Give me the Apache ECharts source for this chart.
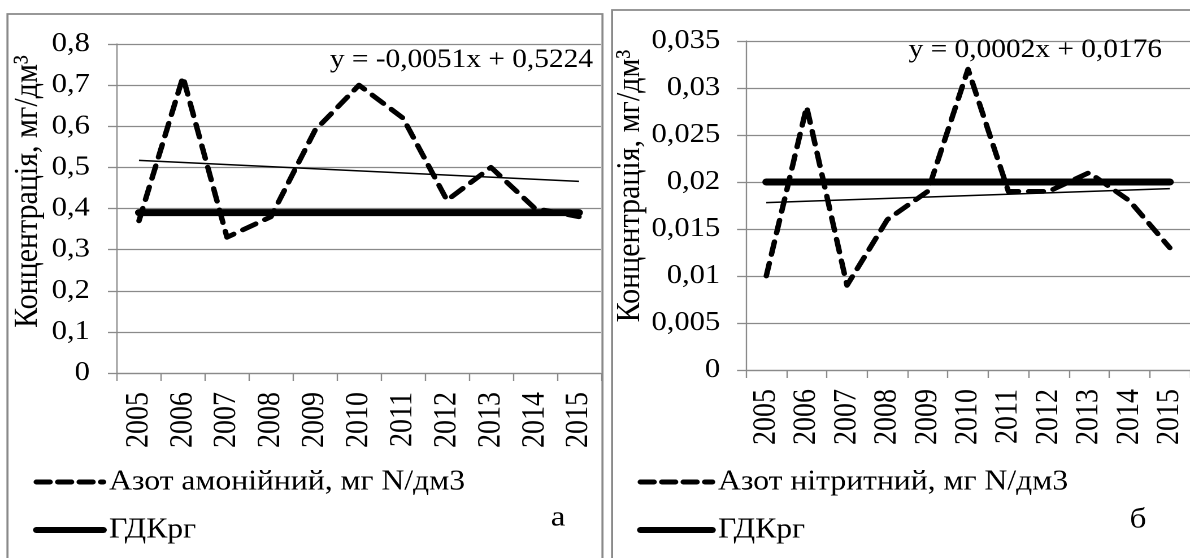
<!DOCTYPE html>
<html>
<head>
<meta charset="utf-8">
<script src="https://cdn.jsdelivr.net/npm/echarts@6/dist/echarts.min.js"></script>
<style>
html,body{margin:0;padding:0;background:#fff;overflow:hidden;}
#chart{width:1053px;height:558px;transform:scaleX(1.1301);transform-origin:0 0;}
</style>
</head>
<body>
<div id="chart"></div>
<script>
// ---- data ----
const years = ['2005','2006','2007','2008','2009','2010','2011','2012','2013','2014','2015'];
const ammonium = [0.37, 0.72, 0.33, 0.38, 0.59, 0.70, 0.62, 0.42, 0.50, 0.40, 0.38];
const gdkA = [0.39, 0.39, 0.39, 0.39, 0.39, 0.39, 0.39, 0.39, 0.39, 0.39, 0.39];
const trendA = [0.517, 0.466]; // trend line at 2005 and 2015
const nitrite = [0.010, 0.028, 0.009, 0.016, 0.019, 0.032, 0.019, 0.019, 0.021, 0.018, 0.013];
const gdkB = [0.02, 0.02, 0.02, 0.02, 0.02, 0.02, 0.02, 0.02, 0.02, 0.02, 0.02];
const trendB = [0.0178, 0.0193];
const nameA = 'Азот амонійний, мг N/дм3';
const nameB = 'Азот нітритний, мг N/дм3';
const nameG = 'ГДКрг';
const eqA = 'y = -0,0051x + 0,5224';
const eqB = 'y = 0,0002x + 0,0176';
const yTitle = 'Концентрація, мг/дм³';

const FONT = "'Liberation Serif', 'Times New Roman', serif";
const GRID_C = '#8a8a8a';
const fmt = v => v === 0 ? '0' : String(parseFloat(v.toFixed(4))).replace('.', ',');

function xAxis(gi){
  return {
    type:'category', gridIndex:gi, data:years, boundaryGap:true,
    axisLine:{show:true, lineStyle:{color:GRID_C, width:1.3}},
    axisTick:{show:true, interval:0, length:8, alignWithLabel:false, lineStyle:{color:GRID_C, width:1.2}},
    axisLabel:{interval:0, hideOverlap:false, rotate:90, margin:19, color:'#000', fontFamily:FONT, fontSize:28}
  };
}
function yAxis(gi, max, interval, gap, margin, shift){
  return {
    type:'value', gridIndex:gi, min:0, max:max, interval:interval,
    name:yTitle, nameLocation:'middle', nameRotate:90, nameGap:gap,
    nameTextStyle:{color:'#000', fontFamily:FONT, fontSize:30, padding:[0, 0, 0, shift]},
    axisLine:{show:true, lineStyle:{color:GRID_C, width:1.2}},
    axisTick:{show:true, length:8, lineStyle:{color:GRID_C, width:1.3}},
    splitLine:{show:true, lineStyle:{color:GRID_C, width:1.3}},
    axisLabel:{formatter:fmt, margin:margin, color:'#000', fontFamily:FONT, fontSize:27}
  };
}
const dashStyle = {color:'#000', width:4.8, type:[13,9], cap:'round', join:'round'};
const gdkStyle = {color:'#000', width:7, type:'solid', cap:'round'};
const trendStyle = {color:'#000', width:1.5, type:'solid'};
const legDash = {color:'#000', width:5, type:[12,7], cap:'round'};
const legSolid = {color:'#000', width:6, type:'solid', cap:'round'};
const blackItem = {color:'#000'};

const legText = {color:'#000', fontFamily:FONT, fontSize:28, lineHeight:30};

const chart = echarts.init(document.getElementById('chart'), null, {renderer:'canvas', devicePixelRatio:2, width:1053, height:558});
chart.setOption({
  backgroundColor:'#fff',
  animation:false,
  textStyle:{fontFamily:FONT},
  grid:[
    {left:103.5, width:428.3, top:44, bottom:185},
    {left:660.2, width:402, top:41, bottom:188}
  ],
  xAxis:[xAxis(0), xAxis(1)],
  yAxis:[yAxis(0, 0.8, 0.1, 64, 24, 34), yAxis(1, 0.035, 0.005, 81, 23, 39)],
  legend:[
    {left:29.2, top:467, padding:0, orient:'vertical', itemWidth:59.3, itemHeight:8, itemGap:18,
     textStyle:legText, itemStyle:{opacity:0},
     data:[{name:nameA, lineStyle:legDash}, {name:nameG, lineStyle:legSolid}],
     selectedMode:false},
    {left:563.7, top:467, padding:0, orient:'vertical', itemWidth:63.7, itemHeight:8, itemGap:18,
     textStyle:legText, itemStyle:{opacity:0},
     data:[{name:nameB, lineStyle:legDash}, {name:nameG, lineStyle:legSolid}],
     selectedMode:false}
  ],
  series:[
    {name:nameA, type:'line', xAxisIndex:0, yAxisIndex:0, data:ammonium, symbol:'none', itemStyle:blackItem, lineStyle:dashStyle, z:3},
    {name:nameG, type:'line', xAxisIndex:0, yAxisIndex:0, data:gdkA, symbol:'none', itemStyle:blackItem, lineStyle:gdkStyle, z:2},
    {name:'trendA', type:'line', xAxisIndex:0, yAxisIndex:0, data:[[years[0], trendA[0]],[years[years.length-1], trendA[1]]], symbol:'none', itemStyle:blackItem, lineStyle:trendStyle, z:4},
    {name:nameB, type:'line', xAxisIndex:1, yAxisIndex:1, data:nitrite, symbol:'none', itemStyle:blackItem, lineStyle:dashStyle, z:3},
    {name:nameG, type:'line', xAxisIndex:1, yAxisIndex:1, data:gdkB, symbol:'none', itemStyle:blackItem, lineStyle:gdkStyle, z:2},
    {name:'trendB', type:'line', xAxisIndex:1, yAxisIndex:1, data:[[years[0], trendB[0]],[years[years.length-1], trendB[1]]], symbol:'none', itemStyle:blackItem, lineStyle:trendStyle, z:4}
  ],
  graphic:[
    {type:'rect', shape:{x:6.6, y:14, width:526.5, height:570}, style:{fill:'none', stroke:GRID_C, lineWidth:1.8}, silent:true},
    {type:'rect', shape:{x:541.6, y:10, width:531, height:570}, style:{fill:'none', stroke:GRID_C, lineWidth:1.8}, silent:true},
    {type:'text', x:524.8, y:60, style:{text:eqA, fill:'#000', font:"26px 'Liberation Serif', serif", textAlign:'right', textVerticalAlign:'middle'}, z:10},
    {type:'text', x:1028.3, y:50, style:{text:eqB, fill:'#000', font:"26px 'Liberation Serif', serif", textAlign:'right', textVerticalAlign:'middle'}, z:10},
    {type:'text', x:493.8, y:518, style:{text:'а', fill:'#000', font:"29px 'Liberation Serif', serif", textAlign:'center', textVerticalAlign:'middle'}},
    {type:'text', x:1007, y:520, style:{text:'б', fill:'#000', font:"29px 'Liberation Serif', serif", textAlign:'center', textVerticalAlign:'middle'}}
  ]
});
</script>
</body>
</html>
